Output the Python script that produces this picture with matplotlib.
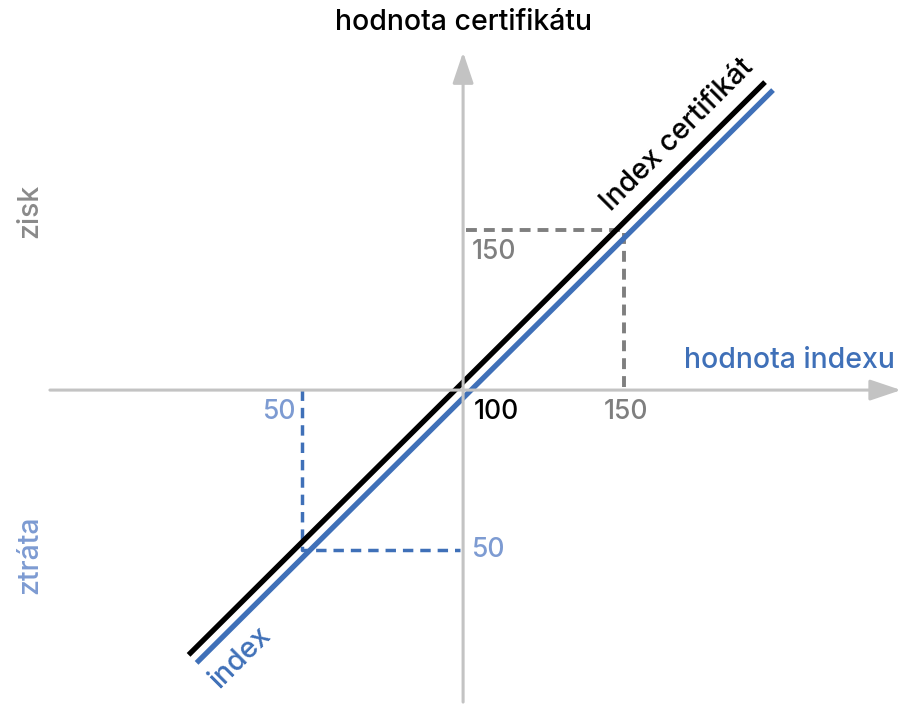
import matplotlib
matplotlib.use("Agg")

import matplotlib.pyplot as plt
import matplotlib.transforms as mtransforms


# data: index value vs certificate value (1:1 tracker)
index_vals = [16, 195]
cert_vals = [16, 195]

origin = (100, 100)
gain_point = (150, 150)
loss_point = (50, 50)

plt.rcParams["font.family"] = ["Inter", "DejaVu Sans"]
plt.rcParams["font.weight"] = "medium"

BLUE = "#3f70b8"
LIGHT_BLUE = "#7d9bd2"
AXIS_GREY = "#c3c3c3"
DASH_GREY = "#7f7f7f"

fig = plt.figure(figsize=(9.03, 7.04), dpi=100)
ax = fig.add_axes([0, 0, 1, 1])
ax.set_xlim(-43.8, 236.6)
ax.set_ylim(1.9, 221.9)
ax.axis("off")

# axes with arrows
arrow = dict(arrowstyle="-|>,head_length=0.95,head_width=0.32",
             color=AXIS_GREY, lw=2.2, mutation_scale=20,
             shrinkA=0, shrinkB=0)
ax.annotate("", xy=(236.0, origin[1]), xytext=(-28.3, origin[1]),
            arrowprops=arrow)
ax.annotate("", xy=(origin[0], 205.6), xytext=(origin[0], 2.5),
            arrowprops=arrow)

# dashed helper lines
ax.plot([origin[0] + 1, gain_point[0], gain_point[0]],
        [gain_point[1], gain_point[1], origin[1]],
        color=DASH_GREY, lw=2.8, linestyle=(0, (2.8, 1.8)))
ax.plot([loss_point[0], loss_point[0], origin[0] - 1],
        [origin[1], loss_point[1], loss_point[1]],
        color=BLUE, lw=2.5, linestyle=(0, (3, 2)))

# the two parallel lines, pushed slightly apart
up_left = mtransforms.offset_copy(ax.transData, fig=fig, x=-0.04, y=0.04,
                                  units="inches")
down_right = mtransforms.offset_copy(ax.transData, fig=fig, x=0.04, y=-0.04,
                                     units="inches")
ax.plot(index_vals, cert_vals, color="black", lw=3.8,
        solid_capstyle="butt", transform=up_left)
ax.plot(index_vals, cert_vals, color=BLUE, lw=3.8,
        solid_capstyle="butt", transform=down_right)

# titles
ax.text(100, 215, "hodnota certifikátu", ha="center", va="center",
        fontsize=20.5, color="black")
ax.text(201.2, 109.4, "hodnota indexu", ha="center", va="center",
        fontsize=20.5, color=BLUE)
ax.text(-34.5, 156, "zisk", ha="center", va="center", rotation=90,
        fontsize=20.5, color="#8a8a8a")
ax.text(-34.5, 48.4, "ztráta", ha="center", va="center", rotation=90,
        fontsize=20.5, color=LIGHT_BLUE)
ax.text(166.5, 179.7, "Index certifikát", ha="center", va="center",
        rotation=45, rotation_mode="anchor", fontsize=20.5, color="black")
ax.text(30.7, 16.6, "index", ha="center", va="center",
        rotation=45, rotation_mode="anchor", fontsize=20.5, color=BLUE)

# value labels
tick_kw = dict(textcoords="offset points", ha="center", va="center",
               fontsize=19)
ax.annotate("100", xy=origin, xytext=(24, -16), color="black", **tick_kw)
ax.annotate("150", xy=(gain_point[0], origin[1]), xytext=(1, -16),
            color=DASH_GREY, **tick_kw)
ax.annotate("50", xy=(loss_point[0], origin[1]), xytext=(-17, -16),
            color=LIGHT_BLUE, **tick_kw)
ax.annotate("150", xy=(origin[0], gain_point[1]), xytext=(22, -16),
            color=DASH_GREY, **tick_kw)
ax.annotate("50", xy=(origin[0], loss_point[1]), xytext=(18, 0),
            color=LIGHT_BLUE, **tick_kw)

fig.savefig("out.png", dpi=100)
plt.close(fig)
